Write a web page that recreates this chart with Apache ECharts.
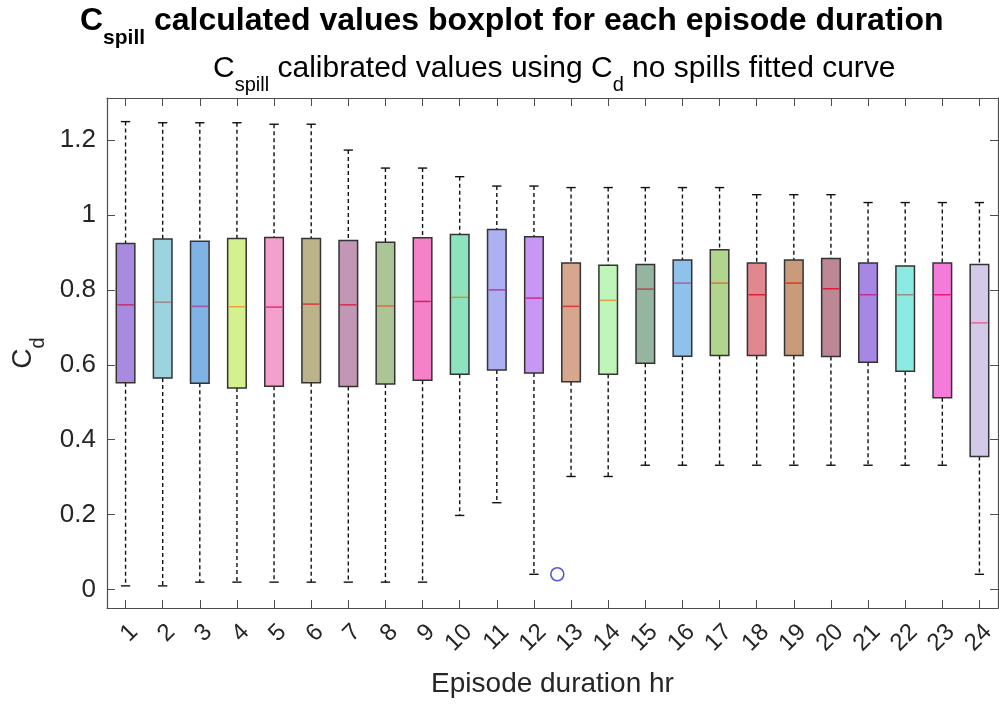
<!DOCTYPE html>
<html>
<head>
<meta charset="utf-8">
<script src="https://cdn.jsdelivr.net/npm/echarts@6/dist/echarts.min.js"></script>
<style>
  html, body { margin: 0; padding: 0; background: #ffffff; }
  #chart { width: 999px; height: 704px; }
</style>
</head>
<body>
<div id="chart"></div>
<script>
// Episode durations (hours) on the x axis
const durations = ['1','2','3','4','5','6','7','8','9','10','11','12',
                   '13','14','15','16','17','18','19','20','21','22','23','24'];

// Box statistics of calibrated Cd per episode duration
const whiskerLow  = [0.010, 0.010, 0.020, 0.020, 0.020, 0.020, 0.020, 0.020, 0.020, 0.198, 0.232, 0.041,
                     0.302, 0.302, 0.332, 0.332, 0.332, 0.332, 0.332, 0.332, 0.332, 0.332, 0.332, 0.041];
const quartile1   = [0.552, 0.565, 0.551, 0.538, 0.543, 0.552, 0.542, 0.549, 0.559, 0.575, 0.586, 0.578,
                     0.555, 0.575, 0.604, 0.623, 0.625, 0.625, 0.625, 0.622, 0.607, 0.583, 0.512, 0.355];
const medians     = [0.760, 0.767, 0.756, 0.755, 0.754, 0.762, 0.760, 0.757, 0.769, 0.780, 0.800, 0.778,
                     0.756, 0.772, 0.802, 0.818, 0.818, 0.787, 0.818, 0.803, 0.787, 0.787, 0.787, 0.712];
const quartile3   = [0.924, 0.936, 0.930, 0.937, 0.940, 0.937, 0.932, 0.927, 0.939, 0.948, 0.961, 0.942,
                     0.872, 0.866, 0.868, 0.880, 0.907, 0.872, 0.880, 0.884, 0.872, 0.864, 0.872, 0.868];
const whiskerHigh = [1.249, 1.246, 1.246, 1.246, 1.242, 1.242, 1.173, 1.125, 1.125, 1.102, 1.077, 1.077,
                     1.073, 1.073, 1.073, 1.073, 1.073, 1.054, 1.054, 1.054, 1.033, 1.033, 1.033, 1.033];

// Outlier points: [position along duration axis, Cd]
const outliers = [[12.63, 0.041]];

// Y tick values
const yTicks = [0, 0.2, 0.4, 0.6, 0.8, 1, 1.2];

// Fill colour of each box and colour of its median line
const boxColors = ['#a88be0', '#9dd3df', '#7fb3e6', '#d4f08f', '#f3a1cc', '#bcb38b',
                   '#c297b5', '#abc597', '#f582c9', '#8ee3bf', '#abb1f2', '#c897f5',
                   '#d7a68e', '#c0f5ba', '#95b5a1', '#8fc2ea', '#b1d58f', '#e0878f',
                   '#c99b7b', '#bd8895', '#a687e4', '#8beae1', '#f57bdb', '#d4c9e8'];
const medianColors = ['#c2306e', '#9a8c94', '#9a5aa8', '#e8a040', '#e8307a', '#d83838',
                      '#d42a55', '#d8703c', '#d8205a', '#b8a040', '#b83c9c', '#d42a8a',
                      '#e03a30', '#d8a040', '#b84a40', '#b060a8', '#d87830', '#e0202c',
                      '#e03a20', '#d82038', '#c82a90', '#9c8c88', '#e81a70', '#e06a90'];

const boxData = durations.map((d, i) =>
  [i, whiskerLow[i], quartile1[i], medians[i], quartile3[i], whiskerHigh[i]]);

const FONT = 'Liberation Sans, Arial, Helvetica, sans-serif';
const AXIS_COLOR = '#4d4d4d';
const TEXT_COLOR = '#262626';
const Y_MIN = -0.049;
const Y_MAX = 1.312;

function renderBox(params, api) {
  const idx = params.dataIndex;
  const i = api.value(0);
  const x = api.coord([i, 0])[0];
  const band = api.size([1, 0])[0];
  const half = band * 0.25;
  const cap = band * 0.125;
  const yLo = api.coord([i, api.value(1)])[1];
  const yQ1 = api.coord([i, api.value(2)])[1];
  const yMed = api.coord([i, api.value(3)])[1];
  const yQ3 = api.coord([i, api.value(4)])[1];
  const yHi = api.coord([i, api.value(5)])[1];
  const dashed = { stroke: '#111', lineWidth: 1.4, lineDash: [4, 3] };
  const solid = { stroke: '#111', lineWidth: 1.4 };
  return {
    type: 'group',
    children: [
      { type: 'line', shape: { x1: x, y1: yHi, x2: x, y2: yQ3 }, style: dashed },
      { type: 'line', shape: { x1: x, y1: yQ1, x2: x, y2: yLo }, style: dashed },
      { type: 'line', shape: { x1: x - cap, y1: yHi, x2: x + cap, y2: yHi }, style: solid },
      { type: 'line', shape: { x1: x - cap, y1: yLo, x2: x + cap, y2: yLo }, style: solid },
      { type: 'rect', shape: { x: x - half, y: yQ3, width: 2 * half, height: yQ1 - yQ3 },
        style: { fill: boxColors[idx], stroke: '#333', lineWidth: 1.5 } },
      { type: 'line', shape: { x1: x - half + 1, y1: yMed, x2: x + half - 1, y2: yMed },
        style: { stroke: medianColors[idx], lineWidth: 1.5 } }
    ]
  };
}

const chart = echarts.init(document.getElementById('chart'), null, { renderer: 'canvas' });

const tickInward = { show: true, inside: true, length: 8, alignWithLabel: true,
                     lineStyle: { color: AXIS_COLOR, width: 1 } };
const frameLine = { show: true, onZero: false, lineStyle: { color: AXIS_COLOR, width: 1.2 } };

chart.setOption({
  backgroundColor: '#ffffff',
  animation: false,
  title: [
    {
      text: '{b|C}{bs|spill}{b| calculated values boxplot for each episode duration}',
      left: 80, top: 5, padding: 0,
      textStyle: {
        fontFamily: FONT, fontWeight: 'bold', fontSize: 32, color: '#000',
        rich: {
          b: { fontFamily: FONT, fontWeight: 'bold', fontSize: 32, lineHeight: 36, color: '#000', verticalAlign: 'top' },
          bs: { fontFamily: FONT, fontWeight: 'bold', fontSize: 21, lineHeight: 21, color: '#000',
                padding: [23, 0, 0, 0], verticalAlign: 'top' }
        }
      }
    },
    {
      text: '{r|C}{rs|spill}{r| calibrated values using C}{rs|d}{r| no spills fitted curve}',
      left: 213, top: 54, padding: 0,
      textStyle: {
        fontFamily: FONT, fontWeight: 'normal', fontSize: 30, color: '#000',
        rich: {
          r: { fontFamily: FONT, fontWeight: 'normal', fontSize: 30, lineHeight: 34, color: '#000', verticalAlign: 'top' },
          rs: { fontFamily: FONT, fontWeight: 'normal', fontSize: 20, lineHeight: 20, color: '#000',
                padding: [21, 0, 0, 0], verticalAlign: 'top' }
        }
      }
    }
  ],
  grid: { left: 107, top: 98, width: 891, height: 510, containLabel: false },
  xAxis: [
    {
      type: 'category', data: durations, position: 'bottom', boundaryGap: true,
      name: 'Episode duration hr', nameLocation: 'middle', nameGap: 62,
      nameTextStyle: { fontFamily: FONT, fontSize: 28, color: TEXT_COLOR },
      axisLine: frameLine,
      axisTick: tickInward,
      axisLabel: { rotate: 45, margin: 12, verticalAlign: 'top', fontFamily: FONT, fontSize: 24,
                   color: TEXT_COLOR, interval: 0 },
      splitLine: { show: false }
    },
    {
      type: 'category', data: durations, position: 'top', boundaryGap: true,
      axisLine: frameLine,
      axisTick: tickInward,
      axisLabel: { show: false },
      splitLine: { show: false }
    },
    {
      type: 'value', min: 0.5, max: 24.5, show: false
    }
  ],
  yAxis: [
    {
      type: 'value', min: Y_MIN, max: Y_MAX, position: 'left',
      name: '{m|C}{s|d}', nameLocation: 'middle', nameGap: 65, nameRotate: 90,
      nameTextStyle: {
        fontFamily: FONT, fontSize: 28, color: TEXT_COLOR,
        rich: {
          m: { fontFamily: FONT, fontSize: 28, lineHeight: 32, color: TEXT_COLOR, verticalAlign: 'top' },
          s: { fontFamily: FONT, fontSize: 20, lineHeight: 20, color: TEXT_COLOR, padding: [20, 0, 0, 0], verticalAlign: 'top' }
        }
      },
      axisLine: frameLine,
      axisTick: { show: true, inside: true, length: 8, customValues: yTicks, lineStyle: { color: AXIS_COLOR, width: 1 } },
      axisLabel: { customValues: yTicks, margin: 11, fontFamily: FONT, fontSize: 26, color: TEXT_COLOR,
                   formatter: v => String(Math.round(v * 10) / 10) },
      splitLine: { show: false }
    },
    {
      type: 'value', min: Y_MIN, max: Y_MAX, position: 'right',
      axisLine: frameLine,
      axisTick: { show: true, inside: true, length: 8, customValues: yTicks, lineStyle: { color: AXIS_COLOR, width: 1 } },
      axisLabel: { show: false },
      splitLine: { show: false }
    }
  ],
  series: [
    {
      type: 'custom',
      name: 'Cd',
      xAxisIndex: 0, yAxisIndex: 0,
      renderItem: renderBox,
      encode: { x: 0, y: [1, 2, 3, 4, 5] },
      data: boxData,
      z: 2
    },
    {
      type: 'scatter',
      name: 'Outliers',
      xAxisIndex: 2, yAxisIndex: 0,
      symbol: 'circle', symbolSize: 13,
      itemStyle: { color: 'rgba(0,0,0,0)', borderColor: '#2a2ae0', borderWidth: 1.6 },
      data: outliers,
      z: 3
    }
  ]
});
</script>
</body>
</html>
